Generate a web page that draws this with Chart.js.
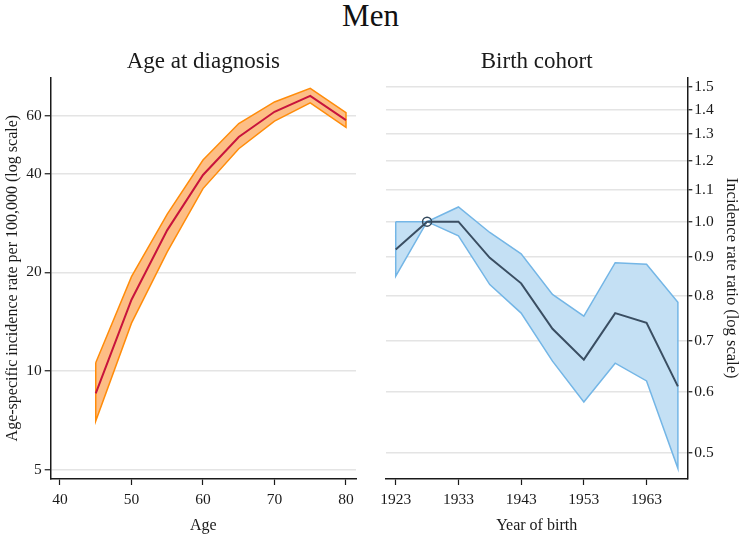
<!DOCTYPE html>
<html lang="en">
<head>
  <meta charset="UTF-8" />
  <title>Men</title>
  <script src="https://cdn.jsdelivr.net/npm/chart.js"></script>
  <style>
    body { margin:0; background:#fff; width:741px; height:539px; position:relative; overflow:hidden; font-family:"Liberation Serif", serif; }
    #mainTitle { position:absolute; left:0; top:-2px; width:741px; text-align:center; font-size:31px; line-height:36px; color:#111; }
    .box { position:absolute; top:40px; height:499px; }
    #leftBox { left:0; width:372px; }
    #rightBox { left:372px; width:369px; }
  </style>
</head>
<body>
  <div id="mainTitle">Men</div>
  <div id="leftBox" class="box"><canvas id="ageChart"></canvas></div>
  <div id="rightBox" class="box"><canvas id="cohortChart"></canvas></div>

  <script>
    // Age at diagnosis (per 100,000)
    const ages = [45, 50, 55, 60, 65, 70, 75, 80];
    const ageRate  = [8.55, 16.5, 26.9, 39.6, 51.7, 61.7, 69.0, 58.2];
    const ageUpper = [10.6, 19.4, 30.1, 44.0, 56.8, 66.1, 72.7, 61.3];
    const ageLower = [7.05, 14.0, 23.1, 36.0, 47.6, 57.8, 65.7, 55.3];
    const ageTicks = [40, 50, 60, 70, 80];
    const rateTicks = [5, 10, 20, 40, 60];

    // Birth cohort (incidence rate ratio, ref 1928)
    const cohorts = [1923, 1928, 1933, 1938, 1943, 1948, 1953, 1958, 1963, 1968];
    const irr      = [0.920, 1.000, 1.000, 0.897, 0.831, 0.725, 0.661, 0.760, 0.738, 0.610];
    const irrUpper = [1.000, 1.000, 1.045, 0.968, 0.908, 0.804, 0.753, 0.884, 0.880, 0.785];
    const irrLower = [0.849, 1.000, 0.958, 0.828, 0.760, 0.658, 0.582, 0.654, 0.620, 0.477];
    const refCohort = 1928;
    const cohortTicks = [1923, 1933, 1943, 1953, 1963];
    const irrTicks = [0.5, 0.6, 0.7, 0.8, 0.9, 1.0, 1.1, 1.2, 1.3, 1.4, 1.5];

    const FONT = '"Liberation Serif", serif';
    const INK = '#1a1a1a';
    const GRID = '#e4e4e4';

    Chart.defaults.font.family = FONT;
    Chart.defaults.color = INK;
    Chart.defaults.animation = false;

    function pts(xs, ys) { return xs.map((x, i) => ({ x, y: ys[i] })); }
    function band(xs, hi, lo) {
      const top = pts(xs, hi);
      const bot = pts(xs, lo).reverse();
      return top.concat(bot, [top[0]]);
    }
    function fixedTicks(list) {
      return scale => { scale.ticks = list.map(v => ({ value: v })); };
    }
    const subTitle = text => ({
      display: true, text, fullSize: false, color: INK,
      font: { size: 23, weight: 'normal' }, padding: { top: 8.5, bottom: 1.2 }
    });

    new Chart(document.getElementById('ageChart'), {
      type: 'scatter',
      data: {
        datasets: [
          { data: pts(ages, ageRate), showLine: true, borderColor: '#c8143c', borderWidth: 2, pointRadius: 0, fill: false },
          { data: band(ages, ageUpper, ageLower), showLine: true, borderColor: '#ff8c0a', borderWidth: 1.5,
            backgroundColor: '#fdbe85', pointRadius: 0, fill: 'shape' }
        ]
      },
      options: {
        responsive: true, maintainAspectRatio: false,
        layout: { padding: { right: 16, top: 0, bottom: 0, left: 0 } },
        plugins: {
          legend: { display: false }, tooltip: { enabled: false },
          title: subTitle('Age at diagnosis')
        },
        scales: {
          x: {
            type: 'linear', min: 38.7, max: 81.4,
            afterBuildTicks: fixedTicks(ageTicks),
            afterFit: s => { s.height = 60; },
            grid: { drawOnChartArea: false, tickColor: INK, tickLength: 6, tickWidth: 1.2 },
            border: { color: INK, width: 1.5 },
            ticks: { font: { size: 15.5 }, padding: 6, autoSkip: false, maxRotation: 0 },
            title: { display: true, text: 'Age', font: { size: 16 }, padding: { top: 4 } }
          },
          y: {
            type: 'logarithmic', min: 4.69, max: 78.6,
            afterBuildTicks: fixedTicks(rateTicks),
            afterFit: s => { s.width = 50.7; },
            grid: { color: GRID, lineWidth: 1.5, tickColor: INK, tickLength: 6, tickWidth: 1.2 },
            border: { color: INK, width: 1.5 },
            ticks: { font: { size: 15.5 }, padding: 3, autoSkip: false, callback: v => String(v) },
            title: { display: true, text: 'Age-specific incidence rate per 100,000 (log scale)', font: { size: 16 }, padding: { top: 3, bottom: 0 } }
          }
        }
      }
    });

    new Chart(document.getElementById('cohortChart'), {
      type: 'scatter',
      data: {
        datasets: [
          { data: [{ x: refCohort, y: irr[cohorts.indexOf(refCohort)] }], showLine: false, pointRadius: 4.5,
            pointBackgroundColor: 'rgba(255,255,255,0)', pointBorderColor: '#34495c', pointBorderWidth: 1.5 },
          { data: pts(cohorts, irr), showLine: true, borderColor: '#3a4e62', borderWidth: 2, pointRadius: 0, fill: false },
          { data: band(cohorts, irrUpper, irrLower), showLine: true, borderColor: '#74b6e6', borderWidth: 1.5,
            backgroundColor: '#c4e0f4', pointRadius: 0, fill: 'shape' }
        ]
      },
      options: {
        responsive: true, maintainAspectRatio: false,
        layout: { padding: { left: 14, right: 0, top: 0, bottom: 0 } },
        plugins: {
          legend: { display: false }, tooltip: { enabled: false },
          title: subTitle('Birth cohort')
        },
        scales: {
          x: {
            type: 'linear', min: 1921.45, max: 1969.5,
            afterBuildTicks: fixedTicks(cohortTicks),
            afterFit: s => { s.height = 60; },
            grid: { drawOnChartArea: false, tickColor: INK, tickLength: 6, tickWidth: 1.2 },
            border: { color: INK, width: 1.5 },
            ticks: { font: { size: 15.5 }, padding: 6, autoSkip: false, maxRotation: 0, callback: v => String(v) },
            title: { display: true, text: 'Year of birth', font: { size: 16 }, padding: { top: 4 } }
          },
          y: {
            type: 'logarithmic', position: 'right', min: 0.462, max: 1.542,
            afterBuildTicks: fixedTicks(irrTicks),
            afterFit: s => { s.width = 53.7; },
            grid: { color: GRID, lineWidth: 1.5, tickColor: INK, tickLength: 5, tickWidth: 1.2 },
            border: { color: INK, width: 1.5 },
            ticks: { font: { size: 15.5 }, padding: 2, autoSkip: false, callback: v => Number(v).toFixed(1) },
            title: { display: true, text: 'Incidence rate ratio (log scale)', font: { size: 16.5 }, padding: 0 }
          }
        }
      }
    });
  </script>
</body>
</html>
